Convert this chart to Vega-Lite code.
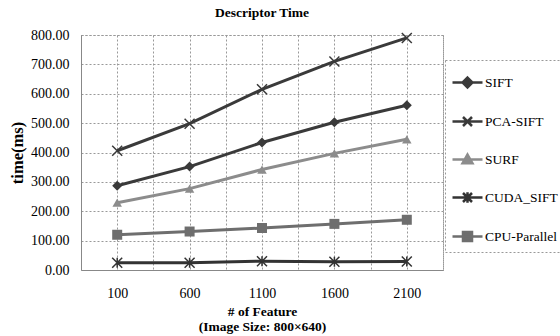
{
  "$schema": "https://vega.github.io/schema/vega-lite/v6.json",
  "width": 362,
  "height": 235,
  "autosize": "none",
  "padding": {"left": 81, "top": 35, "right": 117, "bottom": 66},
  "background": "white",
  "config": {
    "font": "Times New Roman",
    "view": {"stroke": "#999999", "strokeDash": [2, 2], "strokeWidth": 1}
  },
  "title": {"text": "Descriptor Time", "font": "Times New Roman", "fontSize": 13.5, "fontWeight": "bold", "color": "#000000", "offset": 9, "anchor": "middle"},
  "data": {"values": [
    {"series": "SIFT", "features": 100, "time": 287},
    {"series": "SIFT", "features": 600, "time": 352},
    {"series": "SIFT", "features": 1100, "time": 434},
    {"series": "SIFT", "features": 1600, "time": 503},
    {"series": "SIFT", "features": 2100, "time": 561},
    {"series": "PCA-SIFT", "features": 100, "time": 406},
    {"series": "PCA-SIFT", "features": 600, "time": 498},
    {"series": "PCA-SIFT", "features": 1100, "time": 615},
    {"series": "PCA-SIFT", "features": 1600, "time": 710},
    {"series": "PCA-SIFT", "features": 2100, "time": 790},
    {"series": "SURF", "features": 100, "time": 229},
    {"series": "SURF", "features": 600, "time": 277},
    {"series": "SURF", "features": 1100, "time": 342},
    {"series": "SURF", "features": 1600, "time": 397},
    {"series": "SURF", "features": 2100, "time": 445},
    {"series": "CUDA_SIFT", "features": 100, "time": 25},
    {"series": "CUDA_SIFT", "features": 600, "time": 25},
    {"series": "CUDA_SIFT", "features": 1100, "time": 30},
    {"series": "CUDA_SIFT", "features": 1600, "time": 28},
    {"series": "CUDA_SIFT", "features": 2100, "time": 29},
    {"series": "CPU-Parallel", "features": 100, "time": 120},
    {"series": "CPU-Parallel", "features": 600, "time": 131},
    {"series": "CPU-Parallel", "features": 1100, "time": 143},
    {"series": "CPU-Parallel", "features": 1600, "time": 157},
    {"series": "CPU-Parallel", "features": 2100, "time": 171}
  ]},
  "encoding": {
    "x": {
      "field": "features", "type": "quantitative",
      "scale": {"domain": [-150, 2350], "nice": false, "zero": false},
      "axis": {
        "values": [-150, 100, 350, 600, 850, 1100, 1350, 1600, 1850, 2100, 2350],
        "labelExpr": "datum.value % 500 == 100 ? '' + datum.value : ''",
        "labelOverlap": false, "labelFlush": false,
        "grid": true, "gridDash": [2, 2], "gridColor": "#999999",
        "ticks": false, "domainColor": "#888888",
        "labelFont": "Times New Roman", "labelFontSize": 14, "labelColor": "#000000", "labelPadding": 16,
        "title": ["# of Feature", "(Image Size: 800×640)"],
        "titleFont": "Times New Roman", "titleFontSize": 13.5, "titleFontWeight": "bold", "titleColor": "#000000", "titlePadding": 4, "titleLineHeight": 15
      }
    },
    "y": {
      "field": "time", "type": "quantitative",
      "scale": {"domain": [0, 800], "nice": false},
      "axis": {
        "values": [0, 100, 200, 300, 400, 500, 600, 700, 800],
        "format": ".2f",
        "grid": true, "gridDash": [2, 2], "gridColor": "#999999",
        "ticks": false, "domainColor": "#888888",
        "labelFont": "Times New Roman", "labelFontSize": 14, "labelColor": "#000000", "labelPadding": 12,
        "title": "time(ms)", "titleFont": "Times New Roman", "titleFontSize": 16.5, "titleFontWeight": "bold", "titleColor": "#000000", "titlePadding": 5
      }
    }
  },
  "layer": [
    {
      "mark": {"type": "line", "strokeWidth": 3},
      "encoding": {
        "color": {
          "field": "series", "type": "nominal",
          "scale": {"domain": ["SIFT", "PCA-SIFT", "SURF", "CUDA_SIFT", "CPU-Parallel"], "range": ["#3a3a3a", "#3a3a3a", "#8c8c8c", "#333333", "#6e6e6e"]},
          "legend": {
            "title": null, "orient": "none", "legendX": 364, "legendY": 25,
            "symbolSize": 900, "symbolStrokeWidth": 2.5, "rowPadding": 12, "padding": 6,
            "labelFont": "Times New Roman", "labelFontSize": 13.5, "labelColor": "#000000", "labelOffset": 1,
            "strokeColor": "#999999",
            "encode": {
              "legend": {"update": {"strokeDash": {"value": [2, 2]}}},
              "symbols": {"update": {
                "shape": {"signal": "datum.value == 'SIFT' ? 'M-1,0L1,0M0,-0.33L0.33,0L0,0.33L-0.33,0Z' : datum.value == 'PCA-SIFT' ? 'M-1,0L1,0M-0.3,-0.3L0.3,0.3M-0.3,0.3L0.3,-0.3' : datum.value == 'SURF' ? 'M-1,0L1,0M0,-0.33L0.33,0.25L-0.33,0.25Z' : datum.value == 'CUDA_SIFT' ? 'M-1,0L1,0M-0.3,-0.3L0.3,0.3M-0.3,0.3L0.3,-0.3M0,-0.35L0,0.35' : 'M-1,0L1,0M-0.3,-0.3L0.3,-0.3L0.3,0.3L-0.3,0.3Z'"},
                "fill": {"signal": "scale('color', datum.value)"},
                "stroke": {"signal": "scale('color', datum.value)"},
                "fillOpacity": {"value": 1},
                "strokeWidth": {"value": 2.5}
              }}
            }
          }
        }
      }
    },
    {
      "transform": [{"filter": "datum.series == 'SIFT'"}],
      "mark": {"type": "point", "shape": "diamond", "size": 100, "filled": true, "color": "#3a3a3a", "opacity": 1}
    },
    {
      "transform": [{"filter": "datum.series == 'PCA-SIFT'"}],
      "mark": {"type": "point", "shape": "M-1,-1L1,1M-1,1L1,-1", "size": 100, "filled": false, "stroke": "#3a3a3a", "strokeWidth": 1.5, "opacity": 1}
    },
    {
      "transform": [{"filter": "datum.series == 'SURF'"}],
      "mark": {"type": "point", "shape": "triangle-up", "size": 90, "filled": true, "color": "#8c8c8c", "opacity": 1}
    },
    {
      "transform": [{"filter": "datum.series == 'CUDA_SIFT'"}],
      "mark": {"type": "point", "shape": "M-1,-1L1,1M-1,1L1,-1M0,-1L0,1", "size": 100, "filled": false, "stroke": "#333333", "strokeWidth": 1.5, "opacity": 1}
    },
    {
      "transform": [{"filter": "datum.series == 'CPU-Parallel'"}],
      "mark": {"type": "point", "shape": "square", "size": 100, "filled": true, "color": "#6e6e6e", "opacity": 1}
    }
  ]
}
